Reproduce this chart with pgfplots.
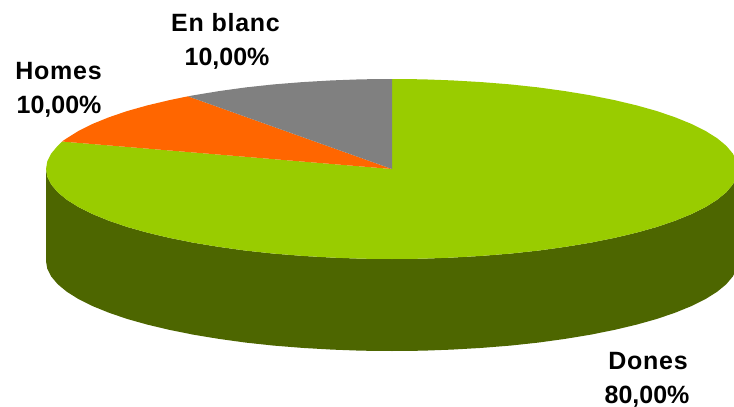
\documentclass[border=0pt]{standalone}
\usepackage{pgfplots}
\pgfplotsset{compat=1.18}
\usepackage{fontspec}
\setmainfont{Liberation Sans}
\definecolor{cgreen}{HTML}{99CC00}
\definecolor{cdark}{HTML}{4D6600}
\definecolor{corange}{HTML}{FF6600}
\definecolor{cgray}{HTML}{808080}
\newcommand{\lab}{\fontsize{25}{25}\selectfont\bfseries}
\newcommand{\labs}{\fontsize{25}{25}\selectfont\bfseries\addfontfeature{LetterSpace=3}}
\begin{document}
\begin{tikzpicture}
\begin{axis}[
  width=734pt, height=407pt, scale only axis,
  xmin=0, xmax=734, ymin=0, ymax=407, y dir=reverse,
  hide axis, clip=true
]
% side wall
\addplot[fill=cdark, draw=none] coordinates {
(738,169)(736.7,176.8)(732.7,184.6)(726.2,192.3)(717.1,199.8)(705.6,207)(691.6,214)(675.4,220.6)(657,226.9)(636.7,232.6)(614.4,237.9)(590.5,242.7)(565,246.9)(538.2,250.6)(510.3,253.6)(481.5,255.9)(452.1,257.6)(422.2,258.7)(392,259)
(361.8,258.7)(331.9,257.6)(302.5,255.9)(273.7,253.6)(245.8,250.6)(219,246.9)(193.5,242.7)(169.6,237.9)(147.3,232.6)(127,226.9)(108.6,220.6)(92.4,214)(78.4,207)(66.9,199.8)(57.8,192.3)(51.3,184.6)(47.3,176.8)(46,169)
(46,261)(47.3,268.8)(51.3,276.6)(57.8,284.3)(66.9,291.8)(78.4,299)(92.4,306)(108.6,312.6)(127,318.9)(147.3,324.6)(169.6,329.9)(193.5,334.7)(219,338.9)(245.8,342.6)(273.7,345.6)(302.5,347.9)(331.9,349.6)(361.8,350.7)(392,351)
(422.2,350.7)(452.1,349.6)(481.5,347.9)(510.3,345.6)(538.2,342.6)(565,338.9)(590.5,334.7)(614.4,329.9)(636.7,324.6)(657,318.9)(675.4,312.6)(691.6,306)(705.6,299)(717.1,291.8)(726.2,284.3)(732.7,276.6)(736.7,268.8)(738,261)
} --cycle;
% Dones
\addplot[fill=cgreen, draw=none] coordinates {
(392,169)(392,79)(422.2,79.3)(452.1,80.4)(481.5,82.1)(510.3,84.4)(538.2,87.4)(565,91.1)(590.5,95.3)(614.4,100.1)(636.7,105.4)(657,111.1)(675.4,117.4)(691.6,124)(705.6,131)(717.1,138.2)(726.2,145.7)(732.7,153.4)(736.7,161.2)(738,169)
(736.7,176.8)(732.7,184.6)(726.2,192.3)(717.1,199.8)(705.6,207)(691.6,214)(675.4,220.6)(657,226.9)(636.7,232.6)(614.4,237.9)(590.5,242.7)(565,246.9)(538.2,250.6)(510.3,253.6)(481.5,255.9)(452.1,257.6)(422.2,258.7)(392,259)
(361.8,258.7)(331.9,257.6)(302.5,255.9)(273.7,253.6)(245.8,250.6)(219,246.9)(193.5,242.7)(169.6,237.9)(147.3,232.6)(127,226.9)(108.6,220.6)(92.4,214)(78.4,207)(66.9,199.8)(57.8,192.3)(51.3,184.6)(47.3,176.8)(46,169)
(47.3,161.2)(51.3,153.4)(57.8,145.7)(62,141.5)
} --cycle;
% Homes
\addplot[fill=corange, draw=none] coordinates {
(392,169)(62,141.5)(66.9,138.2)(78.4,131)(92.4,124)(108.6,117.4)(127,111.1)(147.3,105.4)(169.6,100.1)(188,96.3)
} --cycle;
% En blanc
\addplot[fill=cgray, draw=none] coordinates {
(392,169)(188,96.3)(193.5,95.3)(219,91.1)(245.8,87.4)(273.7,84.4)(302.5,82.1)(331.9,80.4)(361.8,79.3)(392,79)
} --cycle;
\node[anchor=base, inner sep=0pt] at (axis cs:225.5,31) {\labs En blanc};
\node[anchor=base, inner sep=0pt] at (axis cs:227,65) {\lab 10,00\%};
\node[anchor=base, inner sep=0pt] at (axis cs:58.5,79) {\labs Homes};
\node[anchor=base, inner sep=0pt] at (axis cs:59,113) {\lab 10,00\%};
\node[anchor=base, inner sep=0pt] at (axis cs:648,369) {\labs Dones};
\node[anchor=base, inner sep=0pt] at (axis cs:647,403) {\lab 80,00\%};
\path[use as bounding box] (rel axis cs:0,0) rectangle (rel axis cs:1,1);
\end{axis}
\end{tikzpicture}
\end{document}
